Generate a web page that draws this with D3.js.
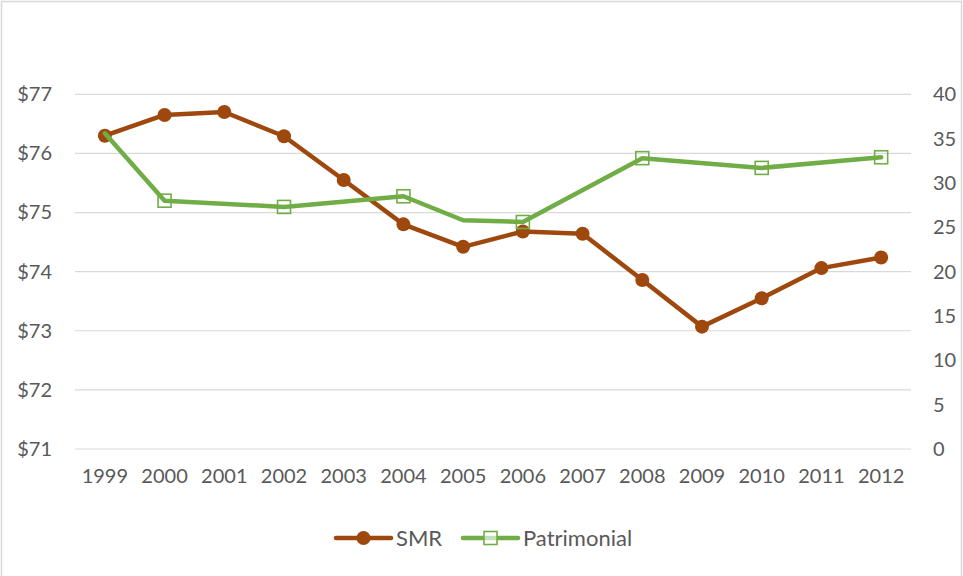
<!DOCTYPE html>
<html>
<head>
<meta charset="utf-8">
<script src="https://cdn.jsdelivr.net/npm/d3@7"></script>
<style>
  body { margin: 0; background: #fff; }
  text { font-family: Lato, "Open Sans", sans-serif; fill: #595959; }
</style>
</head>
<body>
<div class="chart"></div>
<script>
// data
const years = ["1999","2000","2001","2002","2003","2004","2005","2006","2007","2008","2009","2010","2011","2012"];
const smr = [76.30, 76.65, 76.70, 76.29, 75.55, 74.80, 74.42, 74.68, 74.64, 73.86, 73.07, 73.55, 74.06, 74.24];
const patrimonial = [35.6, 28.0, null, 27.3, null, 28.5, 25.8, 25.6, null, 32.8, null, 31.7, null, 32.9];
// years where the Patrimonial series shows a square marker
const patMarkerYears = ["2000","2002","2004","2006","2008","2010","2012"];
const leftTicks = [71, 72, 73, 74, 75, 76, 77];
const rightTicks = [0, 5, 10, 15, 20, 25, 30, 35, 40];

const W = 963, H = 576;
const svg = d3.select(".chart").append("svg").attr("width", W).attr("height", H);

// chart border
svg.append("rect")
    .attr("x", 1.5).attr("y", 1.5)
    .attr("width", W - 3).attr("height", H + 10)
    .attr("fill", "none")
    .attr("stroke", "#d9d9d9")
    .attr("stroke-width", 1.5);

const plot = { left: 75, right: 911, top: 94.3, bottom: 449 };

const x = d3.scaleBand().domain(years).range([plot.left, plot.right]);
const yL = d3.scaleLinear().domain([71, 77]).range([plot.bottom, plot.top]);
const yR = d3.scaleLinear().domain([0, 40]).range([plot.bottom, plot.top]);
const cx = d => x(d) + x.bandwidth() / 2;

// gridlines
svg.append("g").selectAll("line").data(leftTicks).join("line")
    .attr("x1", plot.left).attr("x2", plot.right)
    .attr("y1", d => yL(d)).attr("y2", d => yL(d))
    .attr("stroke", "#d9d9d9").attr("stroke-width", 1.2);

// left axis
const axL = svg.append("g").attr("transform", `translate(${plot.left},0)`)
    .call(d3.axisLeft(yL).tickValues(leftTicks).tickFormat(d => "$" + d).tickSize(0).tickPadding(23));
axL.select(".domain").remove();
axL.selectAll("text").attr("font-size", 20).attr("font-family", "Lato").attr("fill", "#595959");

// right axis
const axR = svg.append("g").attr("transform", `translate(${plot.right},0)`)
    .call(d3.axisRight(yR).tickValues(rightTicks).tickSize(0).tickPadding(22));
axR.select(".domain").remove();
axR.selectAll("text").attr("font-size", 20).attr("font-family", "Lato").attr("fill", "#595959");

// x axis
const axX = svg.append("g").attr("transform", `translate(0,${plot.bottom})`)
    .call(d3.axisBottom(x).tickSize(0).tickPadding(20));
axX.select(".domain").remove();
axX.selectAll("text").attr("font-size", 20).attr("font-family", "Lato").attr("fill", "#595959");

const smrColor = "#9e480e", patColor = "#70ad47";

// SMR line
const smrData = years.map((d, i) => ({ year: d, v: smr[i] }));
svg.append("path")
    .datum(smrData)
    .attr("fill", "none")
    .attr("stroke", smrColor)
    .attr("stroke-width", 4.5)
    .attr("stroke-linejoin", "round")
    .attr("stroke-linecap", "round")
    .attr("d", d3.line().x(d => cx(d.year)).y(d => yL(d.v)));

svg.append("g").selectAll("circle").data(smrData).join("circle")
    .attr("cx", d => cx(d.year))
    .attr("cy", d => yL(d.v))
    .attr("r", 7)
    .attr("fill", smrColor);

// Patrimonial line (gaps bridged), drawn on top
const patData = years.map((d, i) => ({ year: d, v: patrimonial[i] })).filter(d => d.v !== null);
svg.append("path")
    .datum(patData)
    .attr("fill", "none")
    .attr("stroke", patColor)
    .attr("stroke-width", 4.5)
    .attr("stroke-linejoin", "round")
    .attr("stroke-linecap", "round")
    .attr("d", d3.line().x(d => cx(d.year)).y(d => yR(d.v)));

svg.append("g").selectAll("rect").data(patData.filter(d => patMarkerYears.includes(d.year))).join("rect")
    .attr("x", d => cx(d.year) - 6.5)
    .attr("y", d => yR(d.v) - 6.5)
    .attr("width", 13).attr("height", 13)
    .attr("fill", "none")
    .attr("stroke", patColor)
    .attr("stroke-width", 1.6);

// legend
const legend = svg.append("g").attr("transform", "translate(0,538)");
const items = [
    { name: "SMR", color: smrColor, x0: 336, shape: "circle" },
    { name: "Patrimonial", color: patColor, x0: 463, shape: "square" }
];
items.forEach(it => {
    legend.append("line")
        .attr("x1", it.x0).attr("x2", it.x0 + 55)
        .attr("y1", 0).attr("y2", 0)
        .attr("stroke", it.color).attr("stroke-width", 4.5)
        .attr("stroke-linecap", "round");
    if (it.shape === "circle") {
        legend.append("circle").attr("cx", it.x0 + 27.5).attr("cy", 0).attr("r", 7).attr("fill", it.color);
    } else {
        legend.append("rect").attr("x", it.x0 + 21).attr("y", -6.5)
            .attr("width", 13).attr("height", 13)
            .attr("fill", "#fff").attr("fill-opacity", 0.6)
            .attr("stroke", it.color).attr("stroke-width", 1.6);
    }
    legend.append("text")
        .text(it.name)
        .attr("x", it.x0 + 60)
        .attr("y", 8)
        .attr("font-size", 22);
});
</script>
</body>
</html>
